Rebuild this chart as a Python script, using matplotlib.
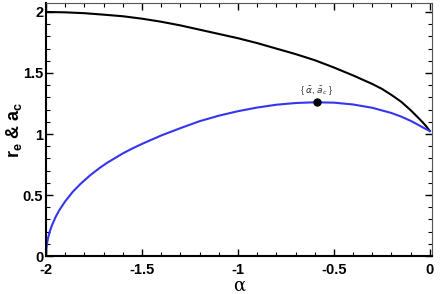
import matplotlib
matplotlib.use("Agg")
import matplotlib.pyplot as plt
from matplotlib.ticker import MultipleLocator

plt.rcParams['font.family'] = ['Liberation Sans', 'DejaVu Sans']

# values
alpha_re = [-2.0, -1.9, -1.8, -1.7, -1.6, -1.5, -1.4, -1.3, -1.2, -1.1,
            -1.0, -0.9, -0.8, -0.7, -0.6, -0.5, -0.4, -0.3, -0.25, -0.2,
            -0.15, -0.1, -0.07, -0.04, -0.02, 0.0]
r_e = [2.0, 1.997, 1.99, 1.978, 1.965, 1.945, 1.92, 1.89, 1.855, 1.82,
       1.785, 1.745, 1.70, 1.655, 1.605, 1.545, 1.48, 1.41, 1.37, 1.32,
       1.265, 1.195, 1.148, 1.10, 1.065, 1.025]

alpha_ac = [-2.0, -1.999, -1.995, -1.99, -1.98, -1.97, -1.95, -1.93, -1.9,
            -1.86, -1.82, -1.77, -1.72, -1.68, -1.6, -1.55, -1.5, -1.4,
            -1.3, -1.2, -1.1, -1.0, -0.9, -0.8, -0.7, -0.6, -0.5, -0.4,
            -0.3, -0.2, -0.15, -0.1, -0.07, -0.04, -0.02, 0.0]
a_c = [0.0, 0.046, 0.10, 0.145, 0.204, 0.249, 0.321, 0.378, 0.449,
       0.528, 0.592, 0.662, 0.723, 0.766, 0.841, 0.882, 0.919, 0.988,
       1.048, 1.105, 1.15, 1.187, 1.217, 1.24, 1.254, 1.26, 1.257, 1.242,
       1.215, 1.172, 1.143, 1.108, 1.083, 1.057, 1.04, 1.025]

alpha_bar, a_bar = -0.59, 1.26

fig = plt.figure(figsize=(4.47, 2.94), dpi=100)
ax = fig.add_axes([0.103, 0.129, 0.863, 0.861])

ax.plot(alpha_re, r_e, color='black', lw=1.5)
ax.plot(alpha_ac, a_c, color='#3535f0', lw=1.5)
ax.plot([alpha_bar], [a_bar], 'o', color='black', ms=5)
ax.text(alpha_bar, a_bar + 0.045, r'{ $\bar{\alpha}$, $\bar{a}_c$ }',
        ha='center', va='bottom', fontsize=6.5, color='#333333')

ax.set_xlim(-2, 0.01)
ax.set_ylim(0, 2.074)
ax.xaxis.set_major_locator(MultipleLocator(0.5))
ax.xaxis.set_minor_locator(MultipleLocator(0.1))
ax.yaxis.set_major_locator(MultipleLocator(0.5))
ax.yaxis.set_minor_locator(MultipleLocator(0.1))
ax.xaxis.set_major_formatter(plt.FuncFormatter(lambda v, p: f'{v:g}'))
ax.yaxis.set_major_formatter(plt.FuncFormatter(lambda v, p: f'{v:g}'))
ax.tick_params(which='both', direction='in', top=True, right=True,
               labelsize=10.5)
ax.tick_params(axis='x', pad=5)
ax.tick_params(axis='y', pad=2)
ax.tick_params(which='major', length=5, width=1)
ax.tick_params(which='minor', length=3, width=0.8)
for lab in ax.get_xticklabels() + ax.get_yticklabels():
    lab.set_fontweight('bold')

for s in ['left', 'bottom']:
    ax.spines[s].set_linewidth(1.5)
for s in ['top', 'right']:
    ax.spines[s].set_linewidth(0.8)
    ax.spines[s].set_color('#555555')

ax.set_xlabel('α', fontsize=13, family='DejaVu Serif', labelpad=0)
ax.set_ylabel(r'r$_{\mathregular{e}}$ & a$_{\mathregular{c}}$',
              fontsize=13, fontweight='bold')
ax.yaxis.set_label_coords(-0.058, 0.5)

fig.savefig('out.png', dpi=100)
